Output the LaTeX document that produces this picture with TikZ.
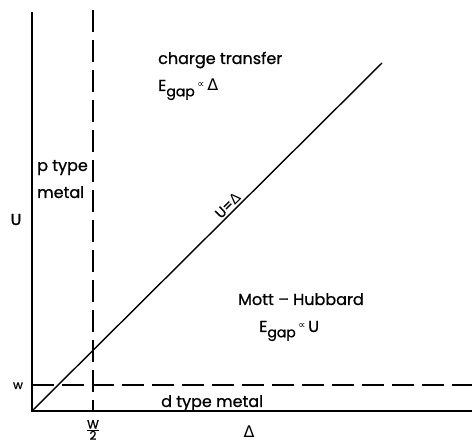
\documentclass[tikz,border=0pt]{standalone}
\usepackage{fontspec}
\setmainfont{Poppins}[UprightFeatures={FakeBold=0.8}]
\newfontfamily\symfont{DejaVu Sans}
\newcommand{\dlt}{{\symfont Δ}}
\newcommand{\prop}{\raisebox{0.35ex}{\symfont\fontsize{10}{11}\selectfont ∝}}
\newcommand{\Egap}{E\raisebox{-0.6ex}{\fontsize{14}{16}\selectfont gap}}

\begin{document}
\begin{tikzpicture}[x=1pt,y=-1pt,
  axis/.style={line width=1.4pt},
  guide/.style={line width=1.2pt, dash pattern=on 22pt off 8pt},
  lbl/.style={inner sep=1pt, font=\fontsize{16}{18}\selectfont}]
\useasboundingbox[fill=white] (0,0) rectangle (472,446);
% axes
\coordinate (O) at (32,411);
\coordinate (top) at (32,12);
\coordinate (right) at (472,411);
\draw[axis] (top) -- (O) -- (right);
% the two dashed guide lines
\coordinate (vtop) at (93,10);
\coordinate (vbot) at (93,411);
\coordinate (hleft) at (32,385);
\coordinate (hright) at (472,385);
\draw[guide] (vtop) -- (vbot);
\draw[guide] (hleft) -- (hright);
% the U = Delta line
\coordinate (diag) at (382,63);
\draw[axis] (O) -- node[lbl, sloped, above, pos=0.575, inner sep=2pt, font=\fontsize{14}{16}\selectfont] (eq) {U=\dlt} (diag);
% axis labels
\node[lbl, anchor=base] (ulab) at (16,225) {U};
\node[lbl, anchor=base, font=\fontsize{12}{14}\selectfont] (wlab) at (18,389) {w};
\node[lbl, font=\fontsize{12}{14}\selectfont] (half) at (93,430) {$\frac{\mbox{W}}{\mbox{2}}$};
\node[lbl, anchor=base] (dlab) at (249,438) {\dlt};
% regions
\node[lbl, anchor=base west] (ptype) at (36,171) {p type};
\node[lbl, anchor=base west] (pmetal) at (36,198) {metal};
\node[lbl, anchor=base west] (ct) at (157,64) {charge transfer};
\node[lbl, anchor=base west] (ctgap) at (157,91) {\Egap\,\prop\,\dlt};
\node[lbl, anchor=base west] (mh) at (237,305) {Mott – Hubbard};
\node[lbl, anchor=base west] (mhgap) at (258,332) {\Egap\,\prop\,U};
\node[lbl, anchor=base west] (dtype) at (160,407) {d type metal};
\end{tikzpicture}
\end{document}
